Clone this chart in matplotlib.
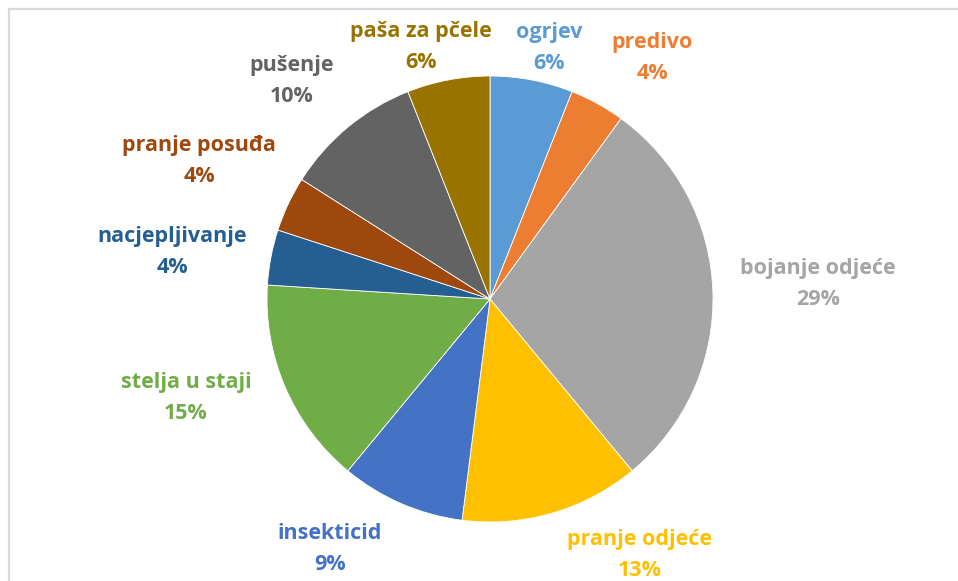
import matplotlib
matplotlib.use('Agg')
import matplotlib.pyplot as plt
from matplotlib.patches import Rectangle

# data
labels = ['ogrjev', 'predivo', 'bojanje odjeće', 'pranje odjeće', 'insekticid',
          'stelja u staji', 'nacjepljivanje', 'pranje posuđa', 'pušenje', 'paša za pčele']
values = [6, 4, 29, 13, 9, 15, 4, 4, 10, 6]
colors = ['#5B9BD5', '#ED7D31', '#A5A5A5', '#FFC000', '#4472C4',
          '#70AD47', '#255E91', '#9E480E', '#636363', '#997300']

W, H = 958, 581
cx, cy, r = 490, H - 299, 223

# label centres, pixel offsets from the pie centre (layout only)
label_off = [(59, 251), (162, 241), (328, 15), (150, -256), (-160, -250),
             (-304, -99), (-318, 47), (-291, 138), (-198, 218), (-69, 252)]

fig = plt.figure(figsize=(W / 100, H / 100), dpi=100)
ax = fig.add_axes([0, 0, 1, 1])

wedges, _ = ax.pie(values, colors=colors, startangle=90, counterclock=False,
                   center=(cx, cy), radius=r, frame=True,
                   wedgeprops=dict(edgecolor='white', linewidth=0.6))
ax.set_xlim(0, W)
ax.set_ylim(0, H)
ax.set_aspect('equal')
ax.axis('off')

for lab, v, c, (dx, dy) in zip(labels, values, colors, label_off):
    ax.text(cx + dx, cy + dy, f'{lab}\n{v}%', ha='center', va='center', color=c,
            fontsize=15.5, fontweight='bold', family='Open Sans', linespacing=1.58)

# chart frame
ax.add_patch(Rectangle((9, -5), W, H - 9 + 5, fill=False, edgecolor='#D9D9D9',
                       linewidth=1.6, clip_on=False))

fig.savefig('out.png', dpi=100)
